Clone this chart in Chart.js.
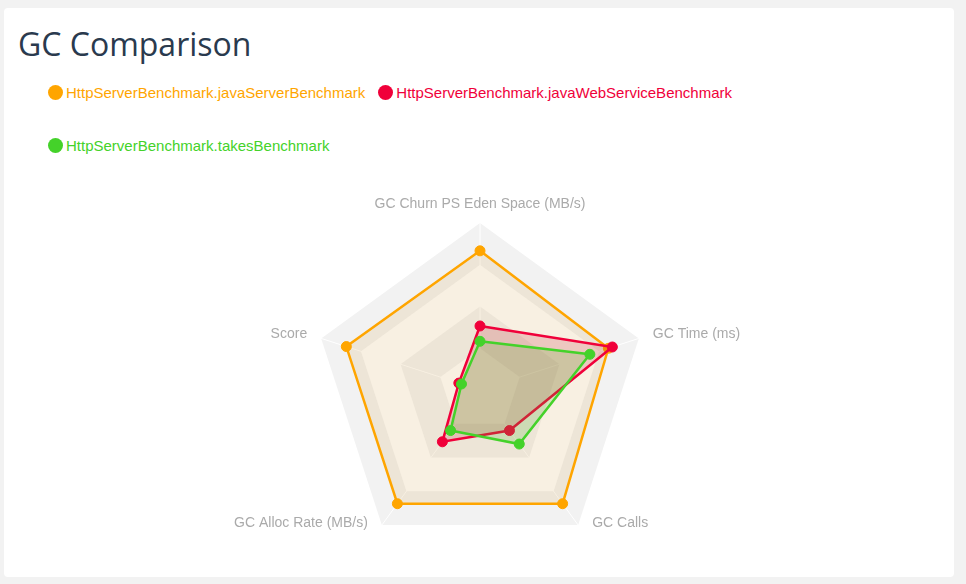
<!DOCTYPE html>
<html>
<head>
<meta charset="utf-8">
<script src="https://cdn.jsdelivr.net/npm/chart.js@4.4.1/dist/chart.umd.min.js"></script>
<style>
  html, body { margin: 0; padding: 0; }
  body { width: 966px; height: 584px; background: #f2f2f2; position: relative; overflow: hidden; }
  .card { position: absolute; left: 4px; top: 8px; width: 950px; height: 569px; background: #fff; border-radius: 4px; }
  h1 { position: absolute; left: 18px; top: 22px; margin: 0; font-family: "Open Sans", sans-serif; font-weight: 400; font-size: 32px; line-height: 44px; color: #2a3a4e; }
  .legend { position: absolute; left: 48px; top: 80px; width: 760px; display: flex; flex-wrap: wrap; font-family: "Liberation Sans", Arial, sans-serif; font-size: 15px; }
  .item { display: flex; align-items: center; height: 24px; margin-right: 13px; margin-bottom: 29px; }
  .dot { width: 15px; height: 15px; border-radius: 50%; margin-right: 3px; }
  .chartbox { position: absolute; left: 18px; top: 180px; width: 924px; height: 396px; }
</style>
</head>
<body>
<div class="card"></div>
<h1>GC Comparison</h1>
<div class="legend" id="legend"></div>
<div class="chartbox"><canvas id="c"></canvas></div>
<script>
const categories = ["GC Churn PS Eden Space (MB/s)", "GC Time (ms)", "GC Calls", "GC Alloc Rate (MB/s)", "Score"];
const seriesNames = ["HttpServerBenchmark.javaServerBenchmark", "HttpServerBenchmark.javaWebServiceBenchmark", "HttpServerBenchmark.takesBenchmark"];
const javaServerValues = [1.00, 0.97, 1.01, 1.01, 1.01];
const javaWebServiceValues = [0.46, 1.00, 0.36, 0.46, 0.16];
const takesValues = [0.35, 0.83, 0.48, 0.36, 0.14];
const bandEdges = [1.2, 0.9, 0.6, 0.3];

const lineColors = ["#ffa500", "#f0003a", "#44d22a"];
const fillColors = ["rgba(208,155,62,0.15)", "rgba(190,20,40,0.18)", "rgba(78,180,46,0.2)"];
const bandColors = ["#f2f2f2", "#ffffff", "#f2f2f2", "#ffffff"];
const seriesValues = [javaServerValues, javaWebServiceValues, takesValues];

const legend = document.getElementById('legend');
seriesNames.forEach((name, i) => {
  const it = document.createElement('div');
  it.className = 'item';
  it.style.color = lineColors[i];
  const dot = document.createElement('span');
  dot.className = 'dot';
  dot.style.background = lineColors[i];
  it.appendChild(dot);
  it.appendChild(document.createTextNode(name));
  legend.appendChild(it);
});

const radarDecor = {
  id: 'radarDecor',
  beforeDraw(chart) {
    const s = chart.scales.r, ctx = chart.ctx, n = chart.data.labels.length;
    ctx.save();
    bandEdges.forEach((v, k) => {
      const d = s.getDistanceFromCenterForValue(v);
      ctx.beginPath();
      for (let i = 0; i < n; i++) {
        const p = s.getPointPosition(i, d);
        if (i === 0) ctx.moveTo(p.x, p.y); else ctx.lineTo(p.x, p.y);
      }
      ctx.closePath();
      ctx.fillStyle = bandColors[k];
      ctx.fill();
    });
    ctx.restore();
  },
  afterDraw(chart) {
    const s = chart.scales.r, ctx = chart.ctx, n = chart.data.labels.length;
    ctx.save();
    ctx.font = '14px "Liberation Sans", Arial, sans-serif';
    ctx.fillStyle = '#aaaaaa';
    ctx.textBaseline = 'middle';
    for (let i = 0; i < n; i++) {
      const p = s.getPointPosition(i, s.drawingArea);
      const label = chart.data.labels[i];
      const dy = p.y > s.yCenter ? -2 : -4;
      if (Math.abs(p.x - s.xCenter) < 1) {
        ctx.textAlign = 'center';
        ctx.fillText(label, p.x, p.y - 19);
      } else if (p.x > s.xCenter) {
        ctx.textAlign = 'left';
        ctx.fillText(label, p.x + 14, p.y + dy);
      } else {
        ctx.textAlign = 'right';
        ctx.fillText(label, p.x - 14, p.y + dy);
      }
    }
    ctx.restore();
  }
};

new Chart(document.getElementById('c'), {
  type: 'radar',
  data: {
    labels: categories,
    datasets: seriesNames.map((name, i) => ({
      label: name,
      data: seriesValues[i],
      borderColor: lineColors[i],
      backgroundColor: fillColors[i],
      pointBackgroundColor: lineColors[i],
      pointBorderColor: lineColors[i],
      pointRadius: 5,
      pointBorderWidth: 1,
      borderWidth: 2.5,
      fill: true,
      order: 3 - i
    }))
  },
  options: {
    responsive: true,
    maintainAspectRatio: false,
    animation: false,
    layout: { padding: { top: 43, bottom: 19 } },
    plugins: { legend: { display: false }, tooltip: { enabled: false } },
    scales: {
      r: {
        min: 0,
        max: 1.2,
        ticks: { display: false, stepSize: 0.3 },
        grid: { display: false },
        angleLines: { color: '#ffffff', lineWidth: 1 },
        pointLabels: { display: false }
      }
    }
  },
  plugins: [radarDecor]
});
</script>
</body>
</html>
